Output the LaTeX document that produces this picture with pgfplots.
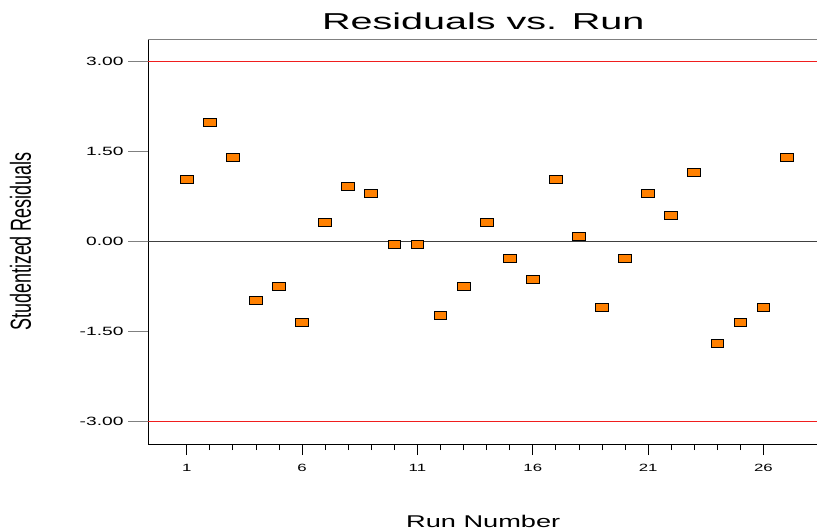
\documentclass[border=0pt]{standalone}
\usepackage{pgfplots}
\pgfplotsset{compat=1.18}
\usepackage{fontspec}
\setmainfont{Liberation Sans}
\newfontfamily\wide[FakeStretch=1.6]{Liberation Sans}
\newfontfamily\wider[FakeStretch=1.72]{Liberation Sans}
\newfontfamily\narrow[FakeStretch=0.62]{Liberation Sans}
\definecolor{markorange}{HTML}{FF8000}
\definecolor{limred}{RGB}{240,30,30}

\begin{document}
\begin{tikzpicture}
  \begin{axis}[
    at={(148pt,-444pt)}, anchor=south west,
    scale only axis,
    width=670.5pt, height=405pt,
    xmin=-0.677, xmax=28.385,
    ymin=-3.37, ymax=3.38,
    axis line style={black, line width=0.8pt},
    tick align=outside,
    xtick pos=lower, ytick pos=left,
    xtick={1,6,11,16,21,26},
    xticklabels={1,6,11,16,21,26},
    minor x tick num=4,
    major tick length=11pt, minor tick length=6pt,
    xtick style={black, line width=0.8pt},
    ytick={-3,-1.5,0,1.5,3},
    yticklabels={-3.00,-1.50,0.00,1.50,3.00},
    ytick style={draw=none},
    xticklabel style={font=\wide\fontsize{10.5}{12}\selectfont, anchor=base, yshift=-16pt},
    yticklabel style={font=\wide\fontsize{12}{14}\selectfont, anchor=east, xshift=-10pt},
    title={\wider\fontsize{23}{28}\selectfont Residuals vs. Run},
    title style={at={(axis description cs:0.5,1)}, anchor=base, yshift=3pt},
    xlabel={\wide\fontsize{17}{20}\selectfont Run Number},
    xlabel style={at={(axis description cs:0.5,0)}, anchor=base, yshift=-83pt},
    ylabel={\narrow\fontsize{29}{32}\selectfont Studentized Residuals},
    ylabel style={at={(axis description cs:-0.19,0.5)}, anchor=center},
    clip=false,
  ]
    % frame top line in grey
    \addplot[draw=gray, line width=0.9pt, mark=none] coordinates {(-0.677,3.38) (28.385,3.38)};
    % limit lines and zero line
    \addplot[draw=limred, line width=1.3pt, mark=none] coordinates {(-0.677,3) (28.385,3)};
    \addplot[draw=limred, line width=1.3pt, mark=none] coordinates {(-0.677,-3) (28.385,-3)};
    \addplot[draw=black!75, line width=0.9pt, mark=none] coordinates {(-0.677,0) (28.385,0)};
    % residuals
    \addplot[only marks, mark=square*, mark size=4pt,
      mark options={xscale=1.6, fill=markorange, draw=black, line width=0.8pt}]
      coordinates {
      (1, 1.045) (2, 1.995) (3, 1.40) (4, -0.98) (5, -0.74) (6, -1.34)
      (7, 0.33) (8, 0.93) (9, 0.81) (10, -0.04) (11, -0.04) (12, -1.22)
      (13, -0.74) (14, 0.33) (15, -0.27) (16, -0.62) (17, 1.045) (18, 0.095)
      (19, -1.10) (20, -0.27) (21, 0.81) (22, 0.445) (23, 1.16) (24, -1.69)
      (25, -1.34) (26, -1.10) (27, 1.40)
    };
  \end{axis}
  % y tick marks (axis at x=148pt, 60pt per unit, y=0 at -241.8pt)
  \draw[gray, line width=0.8pt] (128pt,-61.8pt) -- (148pt,-61.8pt);
  \draw[gray, line width=0.8pt] (128pt,-151.8pt) -- (148pt,-151.8pt);
  \draw[gray, line width=0.8pt] (128pt,-241.8pt) -- (148pt,-241.8pt);
  \draw[gray, line width=0.8pt] (128pt,-331.8pt) -- (148pt,-331.8pt);
  \draw[gray, line width=0.8pt] (128pt,-421.8pt) -- (148pt,-421.8pt);
  \pgfresetboundingbox
  \path[use as bounding box] (0,0) rectangle (817pt,-529pt);
\end{tikzpicture}
\end{document}
